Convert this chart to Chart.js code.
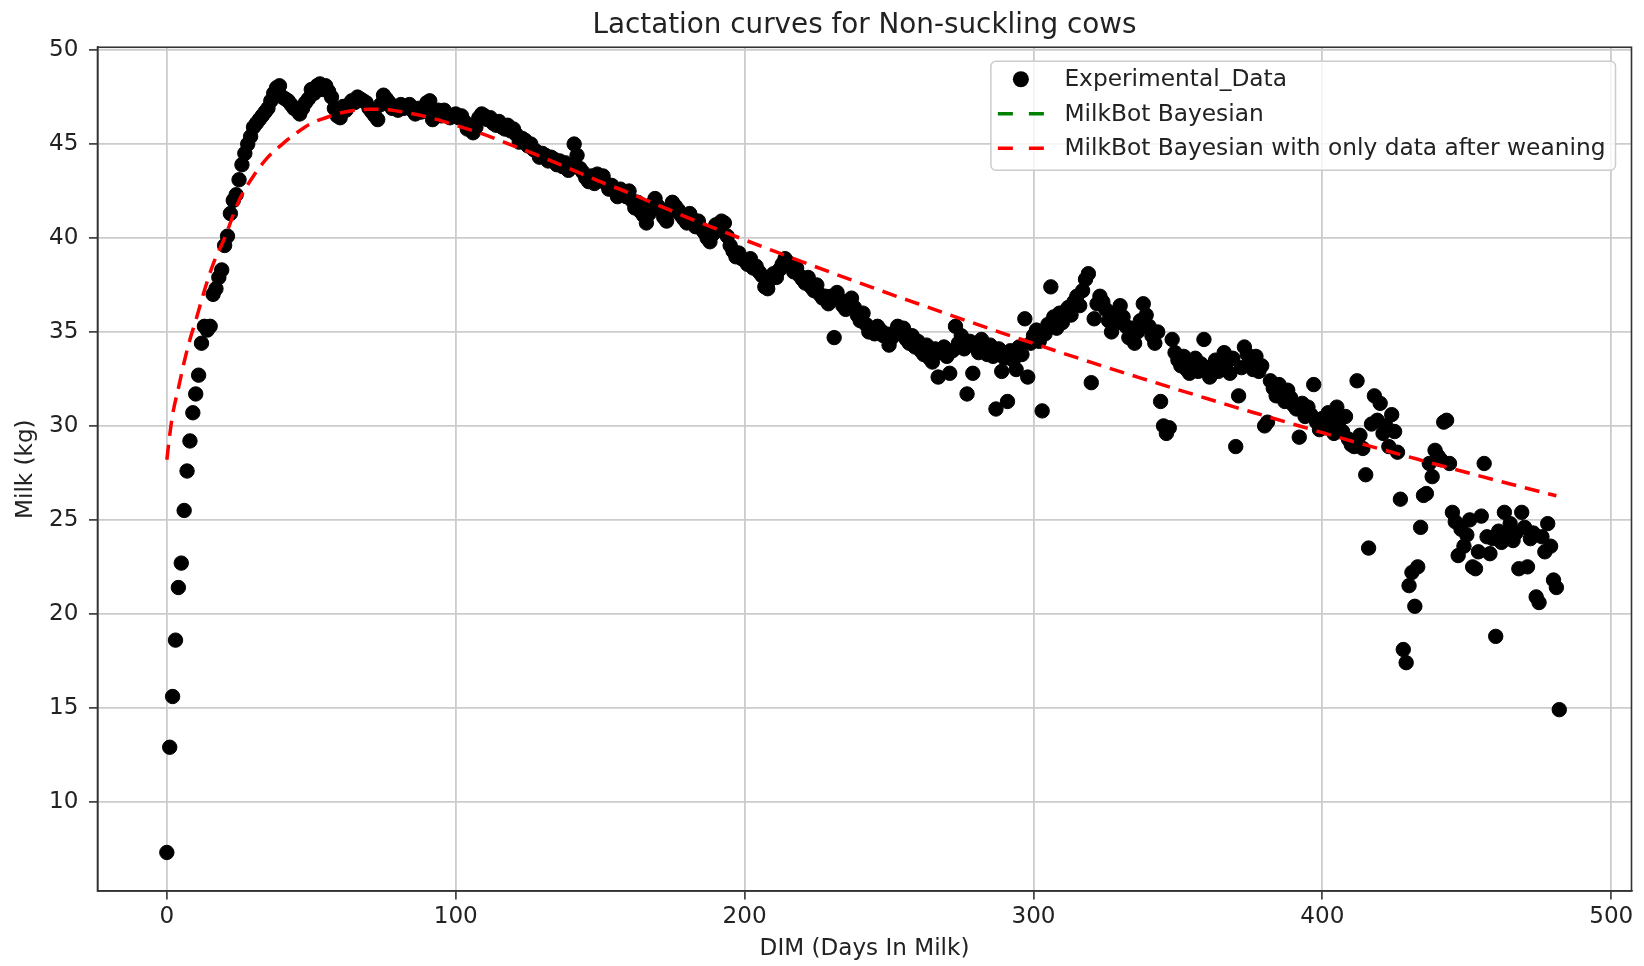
<!DOCTYPE html>
<html>
<head>
<meta charset="utf-8">
<title>Lactation curves for Non-suckling cows</title>
<script src="https://cdn.jsdelivr.net/npm/chart.js@4/dist/chart.umd.min.js"></script>
<style>
  html, body { margin: 0; padding: 0; background: #ffffff; }
  #c { display: block; width: 1644px; height: 966px; }
</style>
</head>
<body>
<canvas id="c" width="1644" height="966"></canvas>
<script>
// Daily milk yield (kg), one value per day in milk, in blocks of 100 days
const milkDays000 = [
  7.3, 12.9, 15.6, 18.6, 21.4, 22.7, 25.5, 27.6, 29.2, 30.7,
  31.7, 32.7, 34.4, 35.3, 35.1, 35.3, 37.0, 37.3, 37.9, 38.3,
  39.6, 40.1, 41.3, 42.0, 42.3, 43.1, 43.9, 44.5, 45.0, 45.4,
  45.9, 46.1, 46.3, 46.5, 46.7, 46.9, 47.3, 47.7, 48.0, 48.1,
  47.5, 47.4, 47.3, 47.1, 46.9, 46.8, 46.6, 46.9, 47.2, 47.4,
  47.9, 47.7, 48.1, 48.2, 47.9, 48.1, 47.8, 47.5, 46.9, 46.5,
  46.4, 47.0, 46.8, 47.1, 47.3, 47.2, 47.5, 47.4, 47.3, 47.2,
  46.9, 46.7, 46.5, 46.3, 47.1, 47.6, 47.4, 47.2, 46.9, 47.0,
  46.8, 47.1, 46.9, 47.0, 47.1, 46.8, 46.6, 46.9, 46.7, 46.8,
  47.2, 47.3, 46.3, 46.6, 46.8, 46.5, 46.8, 46.6, 46.4, 46.5
];
const milkDays100 = [
  46.6, 46.4, 46.5, 46.2, 45.8, 46.0, 45.6, 45.9, 46.4, 46.6,
  46.5, 46.3, 46.4, 46.1, 46.0, 46.2, 45.9, 45.8, 46.0, 45.7,
  45.8, 45.5, 45.1, 45.3, 45.2, 44.9, 45.0, 44.7, 44.6, 44.3,
  44.5, 44.4, 44.1, 44.3, 44.2, 43.9, 44.1, 43.8, 44.0, 43.6,
  43.8, 45.0, 44.4, 43.7, 43.5, 43.2, 43.0, 43.3, 42.9, 43.4,
  43.1, 43.3, 42.9, 42.6, 42.8, 42.5, 42.2, 42.6, 42.4, 42.2,
  42.5, 42.0, 41.6, 41.9, 41.4, 41.2, 40.8, 41.3, 41.8, 42.1,
  41.7, 41.5, 41.1, 40.9, 41.4, 41.9, 41.7, 41.5, 41.2, 41.0,
  40.8, 41.3, 41.0, 40.6, 40.9, 40.5, 40.3, 40.0, 39.8, 40.2,
  40.7, 40.4, 40.9, 40.8, 40.1, 39.6, 39.3, 39.0, 39.2, 38.9
];
const milkDays200 = [
  38.8, 38.6, 38.9, 38.4, 38.5, 38.2, 38.0, 37.4, 37.3, 37.8,
  38.1, 37.9, 38.3, 38.6, 38.9, 38.7, 38.5, 38.2, 38.4, 38.0,
  37.8, 37.6, 37.9, 37.4, 37.2, 37.5, 37.0, 36.8, 36.9, 36.5,
  36.9, 34.7, 37.1, 36.7, 36.4, 36.2, 36.6, 36.8, 36.3, 35.9,
  35.6, 36.0, 35.4, 35.0, 35.2, 34.9, 35.3, 35.1, 34.8, 34.9,
  34.3, 34.7, 35.0, 35.3, 34.9, 35.2, 34.6, 34.4, 34.8, 34.2,
  34.5, 34.0, 33.8, 34.3, 33.6, 33.4, 34.1, 32.6, 33.9, 34.2,
  33.7, 32.8, 34.0, 35.3, 34.4, 34.8, 34.1, 31.7, 34.5, 32.8,
  34.2, 33.9, 34.6, 34.0, 33.8, 34.3, 33.7, 30.9, 34.1, 32.9,
  33.6, 31.3, 34.0, 33.5, 33.0, 34.2, 33.8, 35.7, 32.6, 34.4
];
const milkDays300 = [
  34.8, 35.1, 34.5, 30.8, 34.9, 35.4, 37.4, 35.8, 35.2, 36.0,
  35.5, 36.1, 36.3, 35.9, 36.6, 36.9, 36.4, 37.2, 37.8, 38.1,
  32.3, 35.7, 36.5, 36.9, 36.6, 36.2, 35.6, 35.0, 35.4, 36.1,
  36.4, 35.8, 35.3, 34.7, 35.2, 34.4, 35.0, 35.6, 36.5, 35.9,
  35.3, 34.8, 34.4, 35.0, 31.3, 30.0, 29.6, 29.9, 34.6, 33.9,
  33.5, 33.2, 33.7, 33.0, 32.8, 33.4, 33.6, 32.9, 33.3, 34.6,
  33.1, 32.6, 32.8, 33.5, 32.9, 33.2, 33.9, 33.4, 32.8, 33.6,
  28.9, 31.6, 33.1, 34.2, 33.8, 33.5, 33.0, 33.7, 32.9, 33.2,
  30.0, 30.2, 32.4, 32.0, 31.6, 32.2, 31.8, 31.3, 31.9, 31.5,
  31.1, 30.9, 29.4, 31.2, 30.5, 31.0, 30.6, 32.2, 30.2, 29.8
];
const milkDays400 = [
  30.4, 29.9, 30.7, 30.1, 29.6, 31.0, 30.3, 29.7, 30.5, 29.3,
  29.0, 28.9, 32.4, 29.5, 28.8, 27.4, 23.5, 30.1, 31.6, 30.3,
  31.2, 29.6, 30.0, 28.9, 30.6, 29.7, 28.6, 26.1, 18.1, 17.4,
  21.5, 22.2, 20.4, 22.5, 24.6, 26.3, 26.4, 28.0, 27.3, 28.7,
  28.4, 28.2, 30.2, 30.3, 28.0, 25.4, 24.9, 23.1, 24.5, 23.6,
  24.2, 25.0, 22.5, 22.4, 23.3, 25.2, 28.0, 24.1, 23.2, 24.0,
  18.8, 24.4, 23.8, 25.4, 24.3, 24.8, 23.9, 24.3, 22.4, 25.4,
  24.6, 22.5, 24.0, 24.3, 20.9, 20.6, 24.1, 23.3, 24.8, 23.6,
  21.8, 21.4, 14.9
];

// MilkBot fit using only post-weaning records
const fitDays = [0, 1, 2, 4, 6, 8, 10, 13, 16, 20, 25, 30, 35, 40, 45, 50, 55, 60, 65, 70,
  75, 80, 90, 100, 110, 120, 130, 140, 150, 160, 170, 180, 190, 200, 210, 220, 230, 240,
  250, 260, 270, 280, 290, 300, 310, 320, 330, 340, 350, 360, 370, 380, 390, 400, 410,
  420, 430, 440, 450, 460, 470, 481];
const fitMilk = [28.2, 29.5, 30.6, 32.0, 33.4, 34.6, 35.6, 37.2, 38.6, 40.0, 42.0, 43.3,
  44.3, 45.0, 45.6, 46.1, 46.4, 46.65, 46.8, 46.85, 46.85, 46.75, 46.45, 46.0, 45.5,
  44.9, 44.3, 43.65, 43.0, 42.4, 41.75, 41.1, 40.5, 39.9, 39.31, 38.73, 38.16, 37.6,
  37.04, 36.5, 35.96, 35.43, 34.9, 34.39, 33.88, 33.38, 32.89, 32.41, 31.93, 31.46,
  30.99, 30.54, 30.09, 29.64, 29.2, 28.77, 28.35, 27.93, 27.52, 27.11, 26.71, 26.28];

// The full MilkBot fit has no points in this view
const fitAllDays = [];
const fitAllMilk = [];

const xTicks = [0, 100, 200, 300, 400, 500];
const yTicks = [10, 15, 20, 25, 30, 35, 40, 45, 50];

const seriesNames = [
  'Experimental_Data',
  'MilkBot Bayesian',
  'MilkBot Bayesian with only data after weaning'
];

const milkKg = [].concat(milkDays000, milkDays100, milkDays200, milkDays300, milkDays400);
const experimentalPoints = milkKg.map((v, day) => ({ x: day, y: v }));
const fitPoints = fitDays.map((d, i) => ({ x: d, y: fitMilk[i] }));
const fitAllPoints = fitAllDays.map((d, i) => ({ x: d, y: fitAllMilk[i] }));

const FONT = "'DejaVu Sans', 'Liberation Sans', sans-serif";
const TEXT = '#222222';
const AXIS = '#333333';
const LABEL_SIZE = 23.1;

Chart.defaults.font.family = FONT;
Chart.defaults.color = TEXT;

// Closed box around the plotting area
const frameBox = {
  id: 'frameBox',
  afterDatasetsDraw(chart) {
    const a = chart.chartArea;
    const ctx = chart.ctx;
    ctx.save();
    ctx.strokeStyle = AXIS;
    ctx.lineWidth = 1.6;
    ctx.strokeRect(a.left, a.top, a.right - a.left, a.bottom - a.top);
    ctx.restore();
  }
};

// Legend box in the upper right corner of the plotting area
const insideLegend = {
  id: 'insideLegend',
  afterDraw(chart) {
    const a = chart.chartArea;
    const ctx = chart.ctx;
    const ds = chart.data.datasets;
    ctx.save();
    ctx.font = '23.3px ' + FONT;
    const textW = Math.max(...ds.map(d => ctx.measureText(d.label).width));
    const padL = 7, handle = 46, gap = 20.5, padR = 10;
    const w = padL + handle + gap + textW + padR;
    const h = 109;
    const right = a.right - 16;
    const left = right - w;
    const top = a.top + 14;

    // frame
    const r = 5;
    ctx.beginPath();
    ctx.moveTo(left + r, top);
    ctx.lineTo(left + w - r, top);
    ctx.arcTo(left + w, top, left + w, top + r, r);
    ctx.lineTo(left + w, top + h - r);
    ctx.arcTo(left + w, top + h, left + w - r, top + h, r);
    ctx.lineTo(left + r, top + h);
    ctx.arcTo(left, top + h, left, top + h - r, r);
    ctx.lineTo(left, top + r);
    ctx.arcTo(left, top, left + r, top, r);
    ctx.closePath();
    ctx.fillStyle = 'rgba(255,255,255,0.8)';
    ctx.fill();
    ctx.strokeStyle = '#cccccc';
    ctx.lineWidth = 1.5;
    ctx.stroke();

    const rows = [top + 18, top + 52.5, top + 87];
    const hx = left + padL;
    ds.forEach((d, i) => {
      const y = rows[i];
      if (d.showLine) {
        ctx.strokeStyle = d.borderColor;
        ctx.lineWidth = d.borderWidth;
        ctx.lineCap = 'butt';
        ctx.beginPath();
        ctx.moveTo(hx, y); ctx.lineTo(hx + 15, y);
        ctx.moveTo(hx + 31, y); ctx.lineTo(hx + 46, y);
        ctx.stroke();
      } else {
        ctx.fillStyle = d.backgroundColor;
        ctx.beginPath();
        ctx.arc(hx + handle / 2, y, 8, 0, Math.PI * 2);
        ctx.fill();
      }
      ctx.fillStyle = TEXT;
      ctx.textBaseline = 'middle';
      ctx.textAlign = 'left';
      ctx.fillText(d.label, hx + handle + gap, y + 1);
    });
    ctx.restore();
  }
};

new Chart(document.getElementById('c'), {
  type: 'scatter',
  data: {
    datasets: [
      {
        label: seriesNames[0],
        data: experimentalPoints,
        showLine: false,
        backgroundColor: '#000000',
        borderColor: '#000000',
        borderWidth: 1,
        pointRadius: 7.2,
        order: 3
      },
      {
        label: seriesNames[1],
        data: fitAllPoints,
        showLine: true,
        borderColor: '#008000',
        backgroundColor: '#008000',
        borderWidth: 3.5,
        borderDash: [15, 9],
        pointRadius: 0,
        order: 2
      },
      {
        label: seriesNames[2],
        data: fitPoints,
        showLine: true,
        borderColor: '#ff0000',
        backgroundColor: '#ff0000',
        borderWidth: 3.5,
        borderDash: [15, 9],
        pointRadius: 0,
        cubicInterpolationMode: 'monotone',
        order: 1
      }
    ]
  },
  options: {
    responsive: false,
    devicePixelRatio: 1,
    animation: false,
    events: [],
    layout: { padding: { left: 0, right: 12.5, top: 0, bottom: 0 } },
    plugins: {
      legend: { display: false },
      tooltip: { enabled: false },
      title: {
        display: true,
        fullSize: false,
        text: 'Lactation curves for Non-suckling cows',
        color: TEXT,
        font: { size: 27.8, weight: 'normal', family: FONT, lineHeight: 1.2 },
        padding: { top: 9, bottom: 4.9 }
      }
    },
    scales: {
      x: {
        type: 'linear',
        min: -24,
        max: 507,
        afterBuildTicks(scale) { scale.ticks = xTicks.map(v => ({ value: v })); },
        afterFit(scale) { scale.height = 75; },
        ticks: { font: { size: LABEL_SIZE }, color: TEXT, padding: 4, maxRotation: 0 },
        grid: { color: '#cccccc', lineWidth: 1.8, tickColor: AXIS, tickLength: 8.5, tickWidth: 1.6 },
        border: { color: AXIS, width: 1.6 },
        title: {
          display: true,
          text: 'DIM (Days In Milk)',
          color: TEXT,
          font: { size: LABEL_SIZE, lineHeight: 1.2 },
          padding: { top: 0, bottom: 3 }
        }
      },
      y: {
        type: 'linear',
        min: 5.25,
        max: 50.15,
        afterBuildTicks(scale) { scale.ticks = yTicks.map(v => ({ value: v })); },
        afterFit(scale) { scale.width = 97.5; },
        ticks: { font: { size: LABEL_SIZE }, color: TEXT, padding: 10.5 },
        grid: { color: '#cccccc', lineWidth: 1.8, tickColor: AXIS, tickLength: 8.5, tickWidth: 1.6 },
        border: { color: AXIS, width: 1.6 },
        title: {
          display: true,
          text: 'Milk (kg)',
          color: TEXT,
          font: { size: LABEL_SIZE, lineHeight: 1.2 },
          padding: { top: 12, bottom: 0 }
        }
      }
    }
  },
  plugins: [frameBox, insideLegend]
});
</script>
</body>
</html>
